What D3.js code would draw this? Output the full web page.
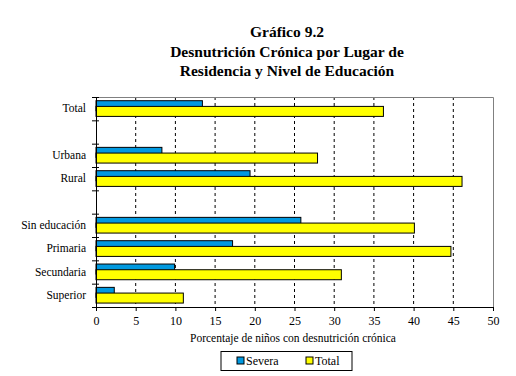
<!DOCTYPE html>
<html>
<head>
<meta charset="utf-8">
<script src="https://cdn.jsdelivr.net/npm/d3@7"></script>
<style>
  body { margin: 0; background: #fff; }
  svg, svg text { font-family: "Liberation Serif", "Times New Roman", serif; }
  svg { display: block; }
</style>
</head>
<body>
<div id="chart"></div>
<script>
// categories (blank slots are the gaps between groups)
const categories = ["Total", "", "Urbana", "Rural", "", "Sin educación", "Primaria", "Secundaria", "Superior"];
const severa = [13.4, null, 8.3, 19.4, null, 25.8, 17.2, 9.9, 2.3];
const total = [36.2, null, 27.9, 46.1, null, 40.1, 44.7, 30.9, 11.0];
const xTicks = [0, 5, 10, 15, 20, 25, 30, 35, 40, 45, 50];
const titleLines = ["Gráfico 9.2", "Desnutrición Crónica por Lugar de", "Residencia y Nivel de Educación"];

const width = 516, height = 376;
const plotL = 96, plotR = 493, plotT = 97, plotB = 307;

const svg = d3.select("#chart").append("svg")
  .attr("width", width)
  .attr("height", height);

// scales
const x = d3.scaleLinear().domain([0, 50]).range([plotL, plotR]);
const y = d3.scaleBand().domain(d3.range(categories.length)).range([plotT, plotB]);
const ySlots = d3.scaleLinear().domain([0, categories.length]).range([plotT, plotB]);

// title
svg.append("g").selectAll("text")
  .data(titleLines)
  .join("text")
  .attr("x", 287)
  .attr("y", (d, i) => 37 + i * 19.5)
  .attr("text-anchor", "middle")
  .style("font-size", "15.5px")
  .style("font-weight", "bold")
  .text(d => d);

// dashed grid
svg.append("g").selectAll("line")
  .data(xTicks.slice(1, -1))
  .join("line")
  .attr("x1", d => x(d)).attr("x2", d => x(d))
  .attr("y1", plotT).attr("y2", plotB)
  .attr("stroke", "#000")
  .attr("stroke-dasharray", "3,3");

// grey frame top and right
svg.append("path")
  .attr("d", `M${plotL},${plotT + 0.5}H${plotR + 0.5}V${plotB}`)
  .attr("fill", "none")
  .attr("stroke", "#808080");

// bars: severa first, total drawn over it
const barH = 10;
svg.append("g").selectAll("rect")
  .data(severa.map((v, i) => ({ i, v })).filter(d => d.v != null))
  .join("rect")
  .attr("x", x(0))
  .attr("y", d => y(d.i) + 3.7)
  .attr("width", d => x(d.v) - x(0))
  .attr("height", barH)
  .attr("fill", "#0099e0")
  .attr("stroke", "#000");

svg.append("g").selectAll("rect")
  .data(total.map((v, i) => ({ i, v })).filter(d => d.v != null))
  .join("rect")
  .attr("x", x(0))
  .attr("y", d => y(d.i) + 9.4)
  .attr("width", d => x(d.v) - x(0))
  .attr("height", barH)
  .attr("fill", "#ffff00")
  .attr("stroke", "#000");

// x axis
const xAxis = svg.append("g")
  .attr("transform", `translate(0,${plotB})`)
  .call(d3.axisBottom(x).tickValues(xTicks).tickSize(4).tickSizeOuter(0))
  .attr("font-family", null)
  .attr("font-size", 12);
xAxis.selectAll("text").attr("dy", "0.9em");
xAxis.selectAll("line, path").attr("stroke", "#000");

// y axis: ticks on slot boundaries
const yAxis = svg.append("g")
  .attr("transform", `translate(${plotL},0)`)
  .call(d3.axisLeft(ySlots).tickValues(d3.range(categories.length + 1)).tickFormat("").tickSize(4).tickSizeOuter(0));
yAxis.selectAll("line").attr("x2", -4).attr("x1", 3).attr("stroke", "#000");
yAxis.select("path").attr("stroke", "#000");

// category labels
const yLabels = svg.append("g")
  .attr("transform", `translate(${plotL},0)`)
  .call(d3.axisLeft(y).tickFormat(i => categories[i]).tickSize(0).tickPadding(10))
  .attr("font-family", null)
  .attr("font-size", 11.5);
yLabels.select("path").remove();

// axis title
svg.append("text")
  .attr("x", 293)
  .attr("y", 342)
  .attr("text-anchor", "middle")
  .style("font-size", "11.5px")
  .text("Porcentaje de niños con desnutrición crónica");

// legend
const legend = svg.append("g");
legend.append("rect")
  .attr("x", 221).attr("y", 351.5)
  .attr("width", 131).attr("height", 19)
  .attr("fill", "#fff").attr("stroke", "#000");
const items = [{ name: "Severa", color: "#0099e0", x: 237 }, { name: "Total", color: "#ffff00", x: 306 }];
items.forEach(it => {
  legend.append("rect")
    .attr("x", it.x).attr("y", 357)
    .attr("width", 7).attr("height", 7)
    .attr("fill", it.color).attr("stroke", "#000");
  legend.append("text")
    .attr("x", it.x + 9).attr("y", 365)
    .style("font-size", "12px")
    .text(it.name);
});
</script>
</body>
</html>
